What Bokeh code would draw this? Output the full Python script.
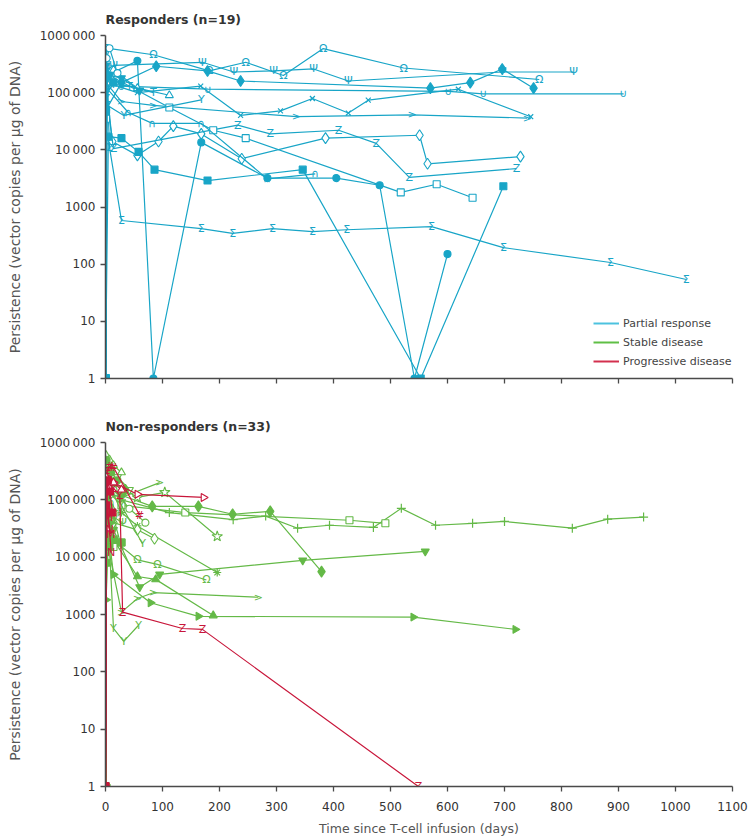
import math
from bokeh.plotting import figure
from bokeh.models import Range1d, FixedTicker, Legend, LegendItem
from bokeh.layouts import column
from bokeh.embed import file_html
from bokeh.resources import INLINE
from bokeh.core.properties import value

# ---------------- data: responders (partial response) ----------------
r01_days = [0, 2, 7, 28, 168, 223, 293, 363, 423, 572, 698, 886, 1019]
r01_vals = [1, 3e5, 1.1e4, 580, 420, 345, 420, 370, 400, 455, 195, 107, 54]
r02_days = [0, 2, 84, 182, 246, 312, 382, 523, 761]
r02_vals = [1, 6e5, 4.6e5, 2.4e5, 3.4e5, 2e5, 5.9e5, 2.7e5, 1.7e5]
r03_days = [0, 2, 14, 170, 225, 295, 365, 426, 696, 821]
r03_vals = [1, 2.5e5, 3e5, 3.4e5, 2.3e5, 2.4e5, 2.6e5, 1.6e5, 2.3e5, 2.3e5]
r04_days = [0, 1, 28, 89, 179, 237, 570, 640, 696, 751]
r04_vals = [1, 5e4, 1.5e5, 2.9e5, 2.4e5, 1.6e5, 1.2e5, 1.5e5, 2.6e5, 1.2e5]
r05_days = [0, 2, 28, 180, 602, 663, 909]
r05_vals = [1, 2.5e5, 1.3e5, 1.15e5, 1.05e5, 9.5e4, 9.5e4]
r06_days = [0, 2, 56, 167, 237, 307, 363, 426, 461, 619, 746]
r06_vals = [1, 1.5e5, 1e5, 1.3e5, 4e4, 4.8e4, 7.9e4, 4.4e4, 7.4e4, 1.15e5, 3.8e4]
r07_days = [0, 1, 28, 84, 335, 538, 740]
r07_vals = [1, 1.5e5, 7e4, 6e4, 3.8e4, 4.1e4, 3.6e4]
r08_days = [0, 2, 12, 56, 93, 119, 168, 239, 386, 551, 565, 728]
r08_vals = [1, 1.2e5, 1.4e4, 8e3, 1.4e4, 2.6e4, 1.9e4, 7e3, 1.6e4, 1.8e4, 5.7e3, 7.6e3]
r09_days = [0, 2, 14, 232, 289, 409, 475, 533, 721]
r09_vals = [1, 8e4, 1.05e4, 2.7e4, 1.9e4, 2.2e4, 1.3e4, 3.3e3, 4.7e3]
r10_days = [0, 1, 7, 112, 189, 246, 518, 581, 644]
r10_vals = [1, 3.5e4, 2e5, 5.5e4, 2.2e4, 1.6e4, 1.8e3, 2.5e3, 1.45e3]
r11_days = [0, 2, 56, 84, 168, 284, 405, 481, 542, 600]
r11_vals = [1, 2e5, 3.6e5, 1, 1.35e4, 3.2e3, 3.2e3, 2.4e3, 1, 150]
r12_days = [0, 5, 28, 58, 86, 179, 346, 553, 698]
r12_vals = [1, 1.7e4, 1.6e4, 9.2e3, 4.5e3, 2.9e3, 4.5e3, 1, 2.3e3]
r13_days = [0, 2, 40, 82, 168, 284, 368]
r13_vals = [1, 1.2e5, 4.5e4, 2.9e4, 2.9e4, 3.1e3, 3.8e3]
r14_days = [0, 3, 32, 168]
r14_vals = [1, 6e4, 4e4, 7.5e4]
r15_days = [0, 2, 14, 56, 112]
r15_vals = [1, 1.5e5, 2.5e5, 1.2e5, 9e4]
r16_days = [0, 1, 7, 28, 60]
r16_vals = [1, 3e5, 2e5, 1.8e5, 1.1e5]
r17_days = [0, 2, 7, 21]
r17_vals = [1, 4e5, 6e5, 2.2e5]
r18_days = [0, 2, 14, 42, 84]
r18_vals = [1, 1e5, 1.4e5, 1.3e5, 1e5]
r19_days = [0, 1, 4, 14]
r19_vals = [1, 5e4, 2e5, 1.5e5]

# ---------------- data: non-responders ----------------
# progressive disease
n01_days = [0, 2, 14, 56, 172]
n01_vals = [1, 2.5e5, 2e5, 1.25e5, 1.1e5]
n02_days = [0, 2, 14, 25, 30, 135, 170, 549]
n02_vals = [1, 2e5, 1.6e5, 1.2e5, 1.1e3, 570, 550, 1]
n03_days = [0, 2, 7, 14, 60]
n03_vals = [1, 3e5, 3.8e5, 3.7e5, 5.4e4]
n04_days = [0, 1, 3, 7, 10]
n04_vals = [1, 2e5, 6e4, 3e4, 1.2e4]
n05_days = [0, 1, 7, 14, 28]
n05_vals = [1, 2.5e5, 1.6e5, 2e5, 1.5e5]
n06_days = [0, 2, 5, 9]
n06_vals = [1, 1.2e5, 5e4, 2.5e4]
n07_days = [0, 1, 4, 8, 12]
n07_vals = [1, 8e4, 2.2e5, 1.4e5, 6e4]
# stable disease
g01_days = [0, 2, 28, 112, 224, 281, 337, 393, 470, 519, 579, 644, 700, 819, 881, 944]
g01_vals = [1, 3e5, 1e5, 6e4, 4.5e4, 5.2e4, 3.2e4, 3.6e4, 3.3e4, 7.1e4, 3.6e4, 3.9e4, 4.2e4, 3.2e4, 4.6e4, 5e4]
g02_days = [0, 2, 28, 140, 428, 491]
g02_vals = [1, 1.5e5, 8e4, 6e4, 4.4e4, 3.9e4]
g03_days = [0, 2, 28, 82, 163, 223, 289, 379]
g03_vals = [1, 2e5, 1.2e5, 7.7e4, 7.7e4, 5.6e4, 6.3e4, 5.6e3]
g04_days = [0, 2, 14, 56, 104, 196]
g04_vals = [1, 4e5, 2e5, 1.1e5, 1.35e5, 2.3e4]
g05_days = [0, 2, 14, 60, 95, 346, 561]
g05_vals = [1, 1.2e5, 3e4, 3e3, 5e3, 8.8e3, 1.26e4]
g06_days = [0, 2, 14, 56, 88, 189]
g06_vals = [1, 6e4, 2e4, 4.6e3, 4.1e3, 960]
g07_days = [0, 2, 14, 79, 163, 540, 719]
g07_vals = [1, 5e4, 5e3, 1.6e3, 930, 900, 550]
g08_days = [0, 2, 28, 56, 84, 268]
g08_vals = [1, 2e4, 1.1e3, 1.9e3, 2.4e3, 2e3]
g09_days = [0, 2, 14, 56, 91, 177]
g09_vals = [1, 1e5, 2e4, 9e3, 7.5e3, 4e3]
g10_days = [0, 2, 28, 56, 196]
g10_vals = [1, 2.5e5, 6e4, 3.5e4, 5.4e3]
g11_days = [0, 2, 14, 56, 86]
g11_vals = [1, 1.5e5, 4e4, 3e4, 2.1e4]
g12_days = [0, 2, 7, 14, 32, 58]
g12_vals = [1, 1e5, 1.5e4, 570, 340, 650]
g13_days = [0, 2, 28, 65]
g13_vals = [1, 4e5, 8e4, 1.7e4]
g14_days = [0, 2, 14, 28, 95]
g14_vals = [1, 3e5, 1.2e5, 1.1e5, 2e5]
g15_days = [0, 1, 7, 14, 28]
g15_vals = [1, 6e5, 5e5, 4e5, 3e5]
g16_days = [0, 1, 7, 21, 42]
g16_vals = [1, 4e5, 3.5e5, 2.5e5, 1.5e5]
g17_days = [0, 2, 7, 14, 28]
g17_vals = [1, 2e5, 1e5, 5e4, 1.5e4]
g18_days = [0, 1, 7, 14, 28]
g18_vals = [1, 3e4, 2e4, 1.5e4, 1.8e4]
g19_days = [0, 1, 7, 14, 28]
g19_vals = [1, 8e3, 1.5e4, 2e4, 1.8e4]
g20_days = [0, 1, 5, 10]
g20_vals = [1, 1.8e3, 2e4, 4e4]
g21_days = [0, 1, 5, 14, 35]
g21_vals = [1, 3e5, 2.5e5, 2e5, 1.5e5]
g22_days = [0, 2, 10, 21]
g22_vals = [1, 5e5, 3e5, 2.2e5]
g23_days = [0, 1, 7, 14, 30]
g23_vals = [1, 1e5, 7e4, 5e4, 4e4]
g24_days = [0, 2, 14, 42, 70]
g24_vals = [1, 2e5, 1.5e5, 7e4, 4e4]
g25_days = [0, 1, 4, 10, 20]
g25_vals = [1, 5e4, 1.5e5, 9e4, 6e4]
g26_days = [0, 1, 3, 9, 18]
g26_vals = [1, 7e4, 2.5e4, 1.8e4, 2.2e4]

y_ticks = [1, 10, 100, 1000, 10000, 100000, 1000000]
y_tick_labels = ["1", "10", "100", "1000", "10\u2009000", "100\u2009000", "1000\u2009000"]
x_ticks = [0, 100, 200, 300, 400, 500, 600, 700, 800, 900, 1000, 1100]
legend_labels = ["Partial response", "Stable disease", "Progressive disease"]

# ---------------- styles ----------------
CYAN = "#18a5c7"
GREEN = "#64b947"
RED = "#c8163a"
AXIS = "#4a4a4a"
FONT = "DejaVu Sans"

resp = [
    (r01_days, r01_vals, "Σ"), (r02_days, r02_vals, "Ω"), (r03_days, r03_vals, "Ψ"),
    (r04_days, r04_vals, "diamond_f"), (r05_days, r05_vals, "∪"), (r06_days, r06_vals, "x"),
    (r07_days, r07_vals, ">"), (r08_days, r08_vals, "diamond_o"), (r09_days, r09_vals, "Z"),
    (r10_days, r10_vals, "square_o"), (r11_days, r11_vals, "circle_f"), (r12_days, r12_vals, "square_f"),
    (r13_days, r13_vals, "∩"), (r14_days, r14_vals, "Y"), (r15_days, r15_vals, "tri_o"),
    (r16_days, r16_vals, "itri_f"), (r17_days, r17_vals, "circle_o"), (r18_days, r18_vals, "T"),
    (r19_days, r19_vals, "square_f"),
]
stable = [
    (g01_days, g01_vals, "cross"), (g02_days, g02_vals, "square_o"), (g03_days, g03_vals, "diamond_f"),
    (g04_days, g04_vals, "star_o"), (g05_days, g05_vals, "itri_f"), (g06_days, g06_vals, "tri_f"),
    (g07_days, g07_vals, "rtri_f"), (g08_days, g08_vals, ">"), (g09_days, g09_vals, "Ω"),
    (g10_days, g10_vals, "asterisk"), (g11_days, g11_vals, "diamond_o"), (g12_days, g12_vals, "Y"),
    (g13_days, g13_vals, "Y"), (g14_days, g14_vals, ">"), (g15_days, g15_vals, "tri_o"),
    (g16_days, g16_vals, "itri_o"), (g17_days, g17_vals, "x"), (g18_days, g18_vals, "square_o"),
    (g19_days, g19_vals, "square_f"), (g20_days, g20_vals, "rtri_f"), (g21_days, g21_vals, "diamond_f"),
    (g22_days, g22_vals, "circle_f"), (g23_days, g23_vals, "Ψ"), (g24_days, g24_vals, "circle_o"),
    (g25_days, g25_vals, "∩"), (g26_days, g26_vals, "∪"),
]
prog = [
    (n01_days, n01_vals, "rtri_o"), (n02_days, n02_vals, "Z"), (n03_days, n03_vals, "#"),
    (n04_days, n04_vals, "N"), (n05_days, n05_vals, "tri_o"), (n06_days, n06_vals, "M"),
    (n07_days, n07_vals, "square_f"),
]

MARKERS = {
    "circle": ("circle", 7, 0), "square": ("square", 7, 0), "diamond": ("diamond", 11, 0),
    "tri": ("triangle", 8, 0), "itri": ("inverted_triangle", 8, 0), "rtri": ("triangle", 8, -math.pi / 2),
    "star": ("star", 11, 0),
}
LINE_MARKS = {"x": ("x", 7), "cross": ("cross", 9), "asterisk": ("asterisk", 8)}


def draw(p, days, vals, color, mk):
    p.line(days, vals, line_color=color, line_width=1.2)
    if mk in LINE_MARKS:
        m, s = LINE_MARKS[mk]
        p.scatter(days, vals, marker=m, size=s, line_color=color, line_width=1.2)
    elif "_" in mk:
        base, fill = mk.split("_")
        m, s, ang = MARKERS[base]
        p.scatter(days, vals, marker=m, size=s, angle=ang, line_color=color, line_width=1.1,
                  fill_color=color if fill == "f" else "white")
    else:
        p.text(days, vals, text=[mk] * len(days), text_color=color, text_font_size="11px",
               text_font=value(FONT), text_align="center", text_baseline="middle")


def make_fig(title, height, bottom, show_x_labels):
    p = figure(width=750, height=height, x_range=Range1d(0, 1100), y_range=Range1d(1, 1e6),
               y_axis_type="log", output_backend="svg", toolbar_location=None,
               min_border_left=105, min_border_right=18, min_border_top=35, min_border_bottom=bottom)
    p.title.text = title
    p.title.align = "left"
    p.title.text_font = FONT
    p.title.text_font_size = "12.5px"
    p.title.text_font_style = "bold"
    p.title.text_color = "#333333"
    p.title.standoff = 17
    p.grid.visible = False
    p.outline_line_color = None
    for ax in (p.xaxis[0], p.yaxis[0]):
        ax.axis_line_color = AXIS
        ax.axis_line_width = 1.5
        ax.major_tick_line_color = AXIS
        ax.major_tick_line_width = 1.3
        ax.major_tick_in = 0
        ax.major_tick_out = 5
        ax.minor_tick_line_color = None
        ax.major_label_text_font = FONT
        ax.major_label_text_font_size = "12px"
        ax.major_label_text_color = "#333333"
        ax.axis_label_text_font = FONT
        ax.axis_label_text_font_style = "normal"
        ax.axis_label_text_color = "#555555"
    p.xaxis.ticker = FixedTicker(ticks=x_ticks)
    p.yaxis.ticker = FixedTicker(ticks=y_ticks)
    p.yaxis.major_label_overrides = {t: l for t, l in zip(y_ticks, y_tick_labels)}
    p.yaxis.major_label_standoff = 5
    p.yaxis.axis_label = "Persistence (vector copies per \u00b5g of DNA)"
    p.yaxis.axis_label_text_font_size = "14px"
    p.yaxis.axis_label_standoff = 14
    if show_x_labels:
        p.xaxis.axis_label = "Time since T-cell infusion (days)"
        p.xaxis.axis_label_text_font_size = "12.5px"
        p.xaxis.major_label_standoff = 10
        p.xaxis.axis_label_standoff = 7
    else:
        p.xaxis.major_label_overrides = {t: "" for t in x_ticks}
    return p


p1 = make_fig("Responders (n=19)", 407, 29, False)
for d, v, mk in resp:
    draw(p1, d, v, CYAN, mk)

items = []
for lab, col in zip(legend_labels, ["#4cc2df", "#5fbf45", "#d3304e"]):
    r = p1.line([2000, 2100], [10, 10], line_color=col, line_width=2)
    items.append(LegendItem(label=lab, renderers=[r]))
leg = Legend(items=items, location=(488, 9), orientation="vertical", border_line_color=None,
             background_fill_alpha=0, padding=0, margin=0, spacing=3, glyph_width=26,
             glyph_height=16, label_height=16, label_standoff=4, label_text_font_size="11px",
             label_text_font=FONT, label_text_color="#444444")
p1.add_layout(leg)

p2 = make_fig("Non-responders (n=33)", 432, 53, True)
for d, v, mk in stable:
    draw(p2, d, v, GREEN, mk)
for d, v, mk in prog:
    draw(p2, d, v, RED, mk)

layout = column(p1, p2)
open("out.html", "w").write(file_html(layout, INLINE))
